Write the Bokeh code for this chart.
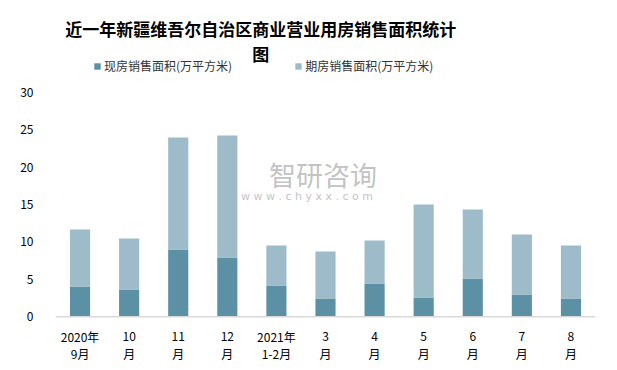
from bokeh.plotting import figure
from bokeh.models import FactorRange, Range1d, Legend, LegendItem, Span, ColumnDataSource
from bokeh.core.properties import value
from bokeh.embed import file_html
from bokeh.resources import INLINE

label_line1 = ["2020年", "10", "11", "12", "2021年", "3", "4", "5", "6", "7", "8"]
label_line2 = ["9月", "月", "月", "月", "1-2月", "月", "月", "月", "月", "月", "月"]
categories = [a + b for a, b in zip(label_line1, label_line2)]
spot = [4.05, 3.65, 8.99, 7.92, 4.18, 2.44, 4.45, 2.58, 5.12, 2.98, 2.44]
futures = [7.61, 6.81, 14.96, 16.28, 5.34, 6.28, 5.75, 12.42, 9.21, 8.01, 7.08]
series_names = ["现房销售面积(万平方米)", "期房销售面积(万平方米)"]
colors = ["#5B90A5", "#9DBBC9"]
title_lines = ["近一年新疆维吾尔自治区商业营业用房销售面积统计", "图"]
y_ticks = [0, 5, 10, 15, 20, 25, 30]

FONT = "Noto Sans CJK SC"

src = ColumnDataSource(dict(cat=categories, spot=spot, futures=futures,
                            l1=label_line1, l2=label_line2,
                            y1=[-2.6] * len(categories), y2=[-4.95] * len(categories)))

p = figure(width=616, height=366, output_backend="svg", toolbar_location=None,
           x_range=FactorRange(*categories, range_padding=0),
           y_range=Range1d(-5.84, 40.64),
           min_border_left=55, min_border_right=21, min_border_top=12, min_border_bottom=6)
p.title.visible = False
p.styles = {"outline": "1px solid #A6A6A6", "outline-offset": "-4px"}

stack = p.vbar_stack(["spot", "futures"], x="cat", width=0.41, source=src,
                     color=colors, line_color=None)

p.add_layout(Span(location=0, dimension="width", line_color="#D9D9D9", line_width=1.5))

p.text(x="cat", y="y1", text="l1", source=src, text_font=value(FONT), text_font_size="12px",
       text_color="#000000", text_align="center", text_baseline="middle")
p.text(x="cat", y="y2", text="l2", source=src, text_font=value(FONT), text_font_size="12px",
       text_color="#000000", text_align="center", text_baseline="middle")

# title
p.text(x=[4.18, 4.18], y=[38.51, 35.17], text=title_lines, text_font=value(FONT),
       text_font_size="17px", text_font_style="bold", text_color="#000000",
       text_align="center", text_baseline="middle")

legend = Legend(items=[LegendItem(label=series_names[0], renderers=[stack[0]]),
                       LegendItem(label=series_names[1], renderers=[stack[1]])],
                orientation="horizontal", location=(38, 286),
                label_text_font=FONT, label_text_font_size="12px", label_text_color="#333333",
                glyph_width=8, glyph_height=8, label_standoff=3, spacing=62,
                padding=0, margin=0, border_line_color=None, background_fill_alpha=0)
p.add_layout(legend, "center")

p.xgrid.grid_line_color = None
p.ygrid.grid_line_color = None
p.outline_line_color = None
p.xaxis.visible = False

p.yaxis.axis_line_color = None
p.yaxis.major_tick_line_color = None
p.yaxis.minor_tick_line_color = None
p.yaxis.ticker = y_ticks
p.yaxis.major_label_text_font = FONT
p.yaxis.major_label_text_font_size = "12px"
p.yaxis.major_label_text_color = "#000000"
p.yaxis.major_label_standoff = 16

# watermark
p.text(x=[4.35], y=[19.0], text=["智研咨询"], text_font=value(FONT), text_font_size="27px",
       text_color="#9A9A9A", text_alpha=0.6, text_baseline="middle", text_align="left")
p.text(x=[3.78], y=[16.0], text=["w w w . c h y x x . c o m"], text_font=value("DejaVu Sans"),
       text_font_size="11px", text_color="#9A9A9A", text_alpha=0.6, text_baseline="middle",
       text_align="left")

open("out.html", "w").write(file_html(p, INLINE))
